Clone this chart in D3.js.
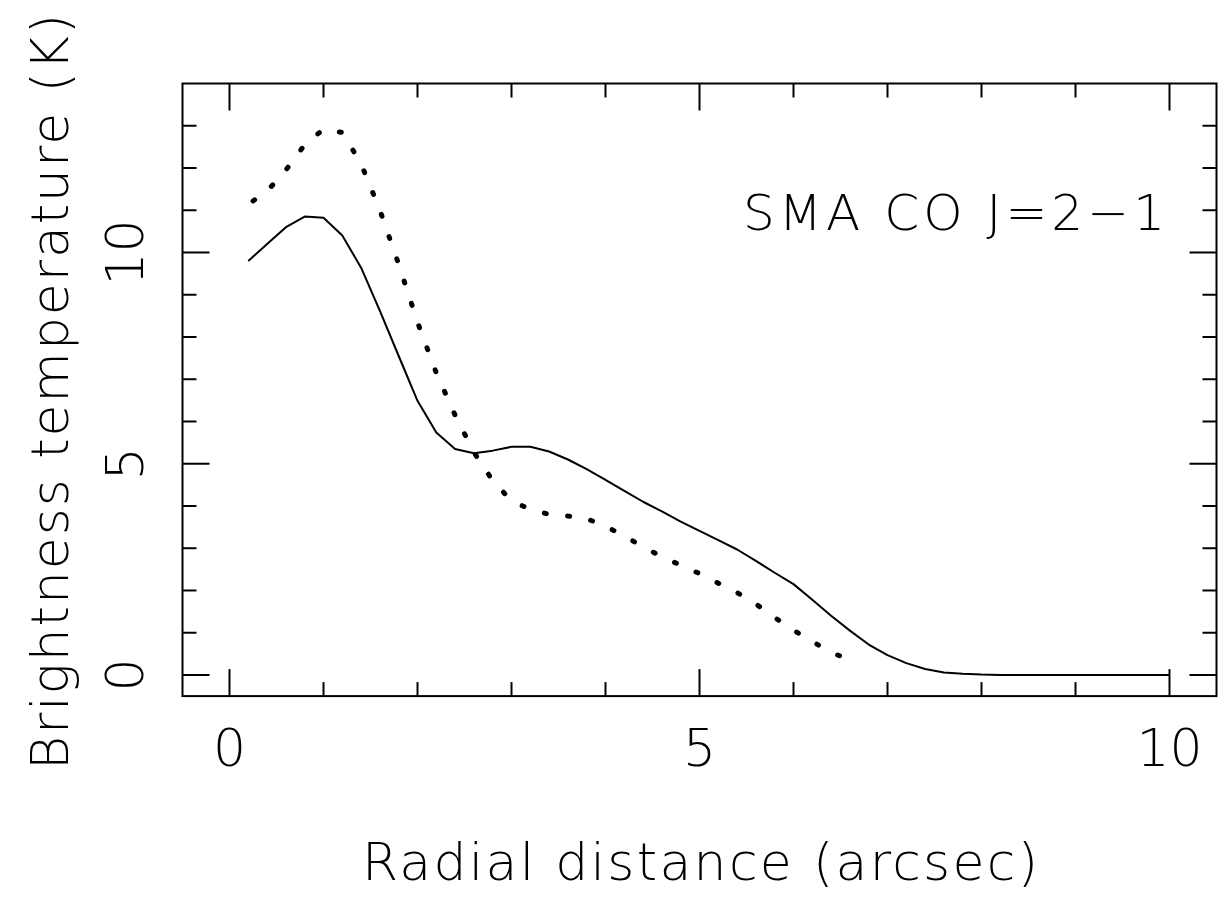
<!DOCTYPE html>
<html>
<head>
<meta charset="utf-8">
<script src="https://cdn.jsdelivr.net/npm/d3@7"></script>
<style>
  html, body { margin: 0; padding: 0; background: #fff; }
  svg { display: block; }
  text { font-family: "DejaVu Sans", "Liberation Sans", sans-serif; font-weight: 200; fill: #000; }
</style>
</head>
<body>
<svg id="chart" width="1222" height="897"></svg>
<script>
// ---- data ----
const solidX = [0.2,0.4,0.6,0.8,1.0,1.2,1.4,1.6,1.8,2.0,2.2,2.4,2.6,2.8,3.0,3.2,3.4,3.6,3.8,4.0,4.2,4.4,4.6,4.8,5.0,5.2,5.4,5.6,5.8,6.0,6.2,6.4,6.6,6.8,7.0,7.2,7.4,7.6,7.8,8.0,8.2,8.4,8.6,8.8,9.0,9.2,9.4,9.6,9.8,10.0];
const solidY = [9.8,10.2,10.6,10.85,10.82,10.4,9.64,8.62,7.55,6.49,5.74,5.35,5.25,5.31,5.40,5.40,5.29,5.10,4.87,4.62,4.36,4.10,3.87,3.63,3.41,3.19,2.97,2.70,2.42,2.15,1.78,1.40,1.05,0.72,0.47,0.28,0.14,0.06,0.03,0.01,0.0,0.0,0.0,0.0,0.0,0.0,0.0,0.0,0.0,0.0];

const dottedX = [0.25,0.4,0.6,0.8,1.0,1.2,1.4,1.6,1.8,2.0,2.2,2.4,2.6,2.8,3.0,3.2,3.4,3.6,3.8,4.0,4.2,4.4,4.6,4.8,5.0,5.2,5.4,5.6,5.8,6.0,6.2,6.4,6.65];
const dottedY = [11.22,11.45,11.95,12.55,12.92,12.84,12.1,11.0,9.72,8.35,7.15,6.15,5.27,4.6,4.12,3.92,3.80,3.76,3.70,3.52,3.29,3.03,2.80,2.60,2.40,2.17,1.95,1.68,1.36,1.06,0.79,0.54,0.30];

const xTicks = [0,1,2,3,4,5,6,7,8,9,10];
const xTickLabels = ["0","5","10"];
const yTicks = [0,1,2,3,4,5,6,7,8,9,10,11,12,13];
const yTickLabels = ["0","5","10"];

const xTitle = "Radial distance (arcsec)";
const yTitle = "Brightness temperature (K)";
const annotation = "SMA CO J=2\u22121";

// ---- layout ----
const svg = d3.select("#chart");
const x = d3.scaleLinear().domain([-0.5, 10.5]).range([182.5, 1216.5]);
const y = d3.scaleLinear().domain([-0.5, 14]).range([696.1, 83.5]);
const [x0, x1] = x.range();
const [y0, y1] = y.range();
const majLen = 27, minLen = 14;
const isMajor = v => v % 5 === 0;

// frame
svg.append("rect")
  .attr("x", x0).attr("y", y1)
  .attr("width", x1 - x0).attr("height", y0 - y1)
  .attr("fill", "none").attr("stroke", "#000").attr("stroke-width", 2);

const tickG = svg.append("g").attr("stroke", "#000").attr("stroke-width", 2);
xTicks.forEach(v => {
  const L = isMajor(v) ? majLen : minLen;
  tickG.append("line").attr("x1", x(v)).attr("x2", x(v)).attr("y1", y0).attr("y2", y0 - L);
  tickG.append("line").attr("x1", x(v)).attr("x2", x(v)).attr("y1", y1).attr("y2", y1 + L);
});
yTicks.forEach(v => {
  const L = isMajor(v) ? majLen : minLen;
  tickG.append("line").attr("y1", y(v)).attr("y2", y(v)).attr("x1", x0).attr("x2", x0 + L);
  tickG.append("line").attr("y1", y(v)).attr("y2", y(v)).attr("x1", x1).attr("x2", x1 - L);
});

// tick labels
xTickLabels.forEach(s => {
  svg.append("text").attr("x", x(+s)).attr("y", 766)
    .attr("text-anchor", "middle").attr("font-size", 52).text(s);
});
yTickLabels.forEach(s => {
  svg.append("text").attr("transform", `translate(143,${y(+s)}) rotate(-90)`)
    .attr("text-anchor", "middle").attr("font-size", 52).text(s);
});

// titles
svg.append("text").attr("x", 362).attr("y", 880)
  .attr("text-anchor", "start").attr("font-size", 52)
  .attr("textLength", 676).attr("lengthAdjust", "spacing").text(xTitle);
svg.append("text").attr("transform", `translate(68,770) rotate(-90)`)
  .attr("text-anchor", "start").attr("font-size", 52)
  .attr("textLength", 756).attr("lengthAdjust", "spacing").text(yTitle);
svg.append("text").attr("x", 743).attr("y", 230)
  .attr("text-anchor", "start").attr("font-size", 50)
  .attr("textLength", 422).attr("lengthAdjust", "spacing").text(annotation);

// curves
const line = d3.line().x(d => x(d[0])).y(d => y(d[1]));
const solid = solidX.map((v, i) => [v, solidY[i]]);
const dotted = dottedX.map((v, i) => [v, dottedY[i]]);

svg.append("path").datum(solid).attr("d", line)
  .attr("fill", "none").attr("stroke", "#000").attr("stroke-width", 2).attr("stroke-linejoin", "round");

svg.append("path").datum(dotted).attr("d", line)
  .attr("fill", "none").attr("stroke", "#000").attr("stroke-width", 5)
  .attr("stroke-linecap", "round").attr("stroke-dasharray", "2,21.5");
</script>
</body>
</html>
